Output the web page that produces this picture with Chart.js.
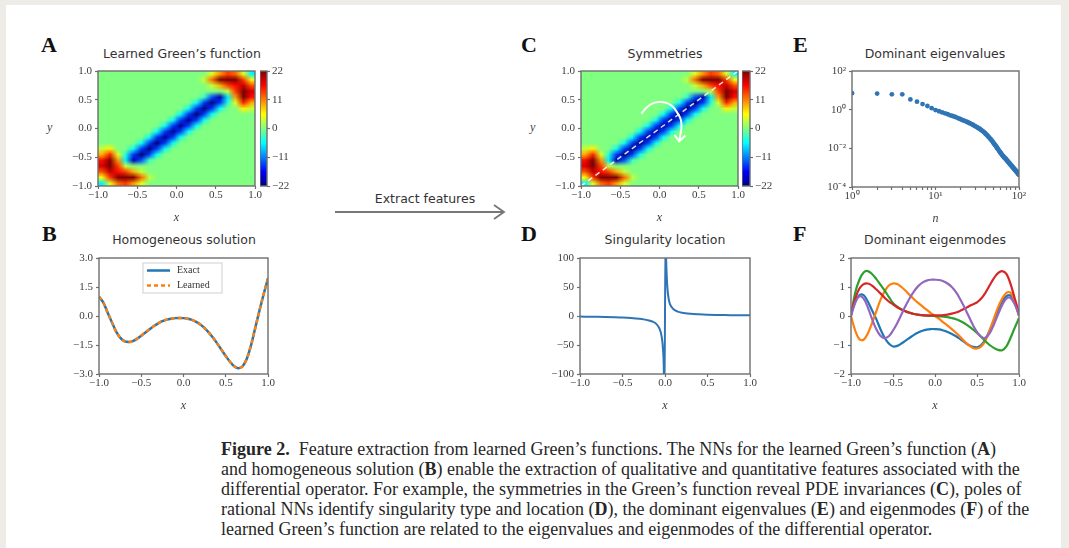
<!DOCTYPE html>
<html>
<head>
<meta charset="utf-8">
<script src="https://cdn.jsdelivr.net/npm/chart.js@4.4.1/dist/chart.umd.min.js"></script>
<style>
html, body { margin: 0; padding: 0; background: #edece7; }
#fig { position: relative; width: 1069px; height: 548px; overflow: hidden; }
.sheet { position: absolute; left: 6px; top: 5px; width: 1055px; height: 543px; background: #fff; }
canvas { position: absolute; }
.letter { position: absolute; font: bold 22px/22px 'Liberation Serif', serif; color: #111; }
.ptitle { position: absolute; width: 240px; text-align: center; font: 12.5px/15px 'DejaVu Sans', sans-serif; color: #333; white-space: nowrap; }
.ylab { position: absolute; font: italic 12px/12px 'Liberation Serif', serif; color: #444; }
.cap { position: absolute; left: 221px; font: 18px/20px 'Liberation Serif', serif; color: #262626; white-space: nowrap; }
</style>
</head>
<body>
<div id="fig">
  <div class="sheet"></div>

  <div class="letter" style="left:41px;top:34px">A</div>
  <div class="letter" style="left:42px;top:223px">B</div>
  <div class="letter" style="left:521px;top:34px">C</div>
  <div class="letter" style="left:521px;top:223px">D</div>
  <div class="letter" style="left:793px;top:34px">E</div>
  <div class="letter" style="left:793px;top:223px">F</div>

  <div class="ptitle" style="left:62px;top:46px">Learned Green’s function</div>
  <div class="ptitle" style="left:64px;top:232px">Homogeneous solution</div>
  <div class="ptitle" style="left:545px;top:46px">Symmetries</div>
  <div class="ptitle" style="left:545px;top:232px">Singularity location</div>
  <div class="ptitle" style="left:815px;top:46px">Dominant eigenvalues</div>
  <div class="ptitle" style="left:815px;top:232px">Dominant eigenmodes</div>

  <div class="ylab" style="left:47px;top:121px">y</div>
  <div class="ylab" style="left:530px;top:121px">y</div>

  <svg style="position:absolute;left:330px;top:200px" width="185" height="24">
    <line x1="5" y1="12" x2="174" y2="12" stroke="#777" stroke-width="1.8"/>
    <polyline points="164,5 174,12 164,19" fill="none" stroke="#777" stroke-width="1.8"/>
  </svg>
  <div class="ptitle" style="left:305px;top:191px">Extract features</div>

  <canvas id="cA"></canvas>
  <canvas id="cAbar"></canvas>
  <canvas id="cC"></canvas>
  <canvas id="cCbar"></canvas>
  <canvas id="cE"></canvas>
  <canvas id="cB"></canvas>
  <canvas id="cD"></canvas>
  <canvas id="cF"></canvas>

  <div class="cap" style="top:439px"><b>Figure 2.</b>&nbsp; Feature extraction from learned Green’s functions. The NNs for the learned Green’s function (<b>A</b>)</div>
  <div class="cap" style="top:459px">and homogeneous solution (<b>B</b>) enable the extraction of qualitative and quantitative features associated with the</div>
  <div class="cap" style="top:479px">differential operator. For example, the symmetries in the Green’s function reveal PDE invariances (<b>C</b>), poles of</div>
  <div class="cap" style="top:499px">rational NNs identify singularity type and location (<b>D</b>), the dominant eigenvalues (<b>E</b>) and eigenmodes (<b>F</b>) of the</div>
  <div class="cap" style="top:519px">learned Green’s function are related to the eigenvalues and eigenmodes of the differential operator.</div>
</div>

<script>
// ---------- data ----------
const xs = [-1, -0.95, -0.9, -0.85, -0.8, -0.75, -0.7, -0.65, -0.6, -0.55, -0.5, -0.45, -0.4, -0.35, -0.3, -0.25, -0.2, -0.15, -0.1, -0.05, 0,
  0.05, 0.1, 0.15, 0.2, 0.25, 0.3, 0.35, 0.4, 0.45, 0.5, 0.55, 0.6, 0.65, 0.7, 0.75, 0.8, 0.85, 0.9, 0.95, 1];

// B: homogeneous solution
const exactU = [1.0, 0.7, 0.2, -0.3, -0.78, -1.12, -1.3, -1.35, -1.3, -1.18, -1.02, -0.85, -0.68, -0.52, -0.38, -0.27, -0.19, -0.14, -0.11, -0.1, -0.11,
  -0.14, -0.2, -0.3, -0.44, -0.63, -0.86, -1.13, -1.43, -1.75, -2.07, -2.37, -2.6, -2.7, -2.6, -2.2, -1.5, -0.6, 0.3, 1.15, 1.95];
const learnedU = [1.0, 0.7, 0.2, -0.3, -0.78, -1.12, -1.3, -1.35, -1.3, -1.18, -1.02, -0.85, -0.68, -0.52, -0.38, -0.27, -0.19, -0.14, -0.11, -0.1, -0.11,
  -0.14, -0.2, -0.3, -0.44, -0.63, -0.86, -1.13, -1.43, -1.75, -2.07, -2.37, -2.6, -2.7, -2.6, -2.2, -1.5, -0.6, 0.3, 1.15, 1.95];

// D: singularity location
const singX = [-1, -0.9, -0.8, -0.7, -0.6, -0.5, -0.4, -0.3, -0.25, -0.2, -0.15, -0.1, -0.075, -0.05, -0.035, -0.025, -0.015, -0.008,
  0.008, 0.012, 0.02, 0.03, 0.045, 0.06, 0.08, 0.1, 0.15, 0.2, 0.3, 0.4, 0.5, 0.6, 0.7, 0.8, 0.9, 1];
const singY = [-1.0, -1.2, -1.4, -1.7, -2.1, -2.6, -3.4, -4.7, -5.8, -7.3, -9.5, -14, -19, -28, -40, -55, -85, -160,
  160, 110, 70, 45, 28, 20, 15, 11.5, 7.5, 5.6, 3.8, 2.9, 2.3, 1.9, 1.6, 1.4, 1.2, 1.1];

// E: dominant eigenvalues, n = 1..100
const eigVals = [7.1, 6.8, 6.2, 6.2, 3.4, 2.6, 1.95, 1.55, 1.2, 0.95,
  0.83, 0.72, 0.65, 0.58, 0.51, 0.47, 0.43, 0.39, 0.35, 0.32,
  0.29, 0.27, 0.25, 0.23, 0.21, 0.195, 0.18, 0.166, 0.151, 0.138,
  0.129, 0.117, 0.107, 0.1, 0.091, 0.083, 0.076, 0.069, 0.062, 0.055,
  0.05, 0.045, 0.04, 0.036, 0.032, 0.029, 0.026, 0.023, 0.02, 0.018,
  0.016, 0.0145, 0.0129, 0.0115, 0.0102, 0.0091, 0.0081, 0.0072, 0.0065, 0.0059,
  0.0054, 0.0049, 0.0045, 0.0041, 0.0038, 0.0035, 0.0033, 0.0031, 0.0029, 0.0027,
  0.0025, 0.0023, 0.0022, 0.00204, 0.0019, 0.00178, 0.00166, 0.00155, 0.00145, 0.00135,
  0.00129, 0.0012, 0.00112, 0.00107, 0.001, 0.00095, 0.00089, 0.00085, 0.00079, 0.00076,
  0.00071, 0.00068, 0.00063, 0.0006, 0.00056, 0.00054, 0.0005, 0.00048, 0.00045, 0.00042];

// F: dominant eigenmodes
const mode1 = [0.05, 0.5, 0.72, 0.72, 0.5, 0.2, -0.1, -0.45, -0.75, -0.95, -1.05, -1.03, -0.95, -0.85, -0.75, -0.65, -0.57, -0.51, -0.47, -0.45, -0.45,
  -0.46, -0.5, -0.55, -0.62, -0.7, -0.8, -0.9, -1.0, -1.06, -1.08, -1.0, -0.8, -0.5, -0.15, 0.2, 0.5, 0.68, 0.7, 0.45, 0.0];
const mode2 = [0, -0.5, -0.8, -0.82, -0.6, -0.25, 0.15, 0.55, 0.85, 1.05, 1.12, 1.1, 1.0, 0.87, 0.72, 0.58, 0.45, 0.33, 0.22, 0.1, 0,
  -0.1, -0.22, -0.33, -0.45, -0.58, -0.72, -0.87, -1.0, -1.1, -1.12, -1.05, -0.85, -0.5, -0.1, 0.3, 0.6, 0.8, 0.8, 0.5, 0];
const mode3 = [0, 0.8, 1.25, 1.5, 1.55, 1.45, 1.28, 1.08, 0.88, 0.66, 0.45, 0.32, 0.23, 0.16, 0.11, 0.07, 0.04, 0.02, 0.01, 0, 0,
  -0.01, -0.02, -0.04, -0.07, -0.11, -0.17, -0.25, -0.35, -0.46, -0.58, -0.72, -0.87, -1.0, -1.1, -1.17, -1.18, -1.05, -0.75, -0.4, -0.08];
const mode4 = [0.05, 0.6, 0.95, 1.1, 1.12, 1.05, 0.92, 0.78, 0.63, 0.5, 0.4, 0.3, 0.22, 0.16, 0.11, 0.07, 0.05, 0.03, 0.02, 0.02, 0.02,
  0.02, 0.03, 0.05, 0.08, 0.12, 0.18, 0.25, 0.33, 0.4, 0.47, 0.6, 0.8, 1.05, 1.3, 1.48, 1.55, 1.45, 1.1, 0.6, 0.1];
const mode5 = [0, 0.45, 0.68, 0.6, 0.3, -0.1, -0.45, -0.68, -0.76, -0.7, -0.5, -0.25, 0.05, 0.35, 0.62, 0.85, 1.03, 1.15, 1.22, 1.25, 1.25,
  1.24, 1.2, 1.12, 1.0, 0.82, 0.58, 0.3, 0.0, -0.3, -0.55, -0.72, -0.75, -0.6, -0.3, 0.05, 0.38, 0.6, 0.62, 0.4, 0.05];

// A / C: learned Green's function on a 20 x 20 grid; cells not listed are ~0
const cellCentres = [-0.95, -0.85, -0.75, -0.65, -0.55, -0.45, -0.35, -0.25, -0.15, -0.05,
  0.05, 0.15, 0.25, 0.35, 0.45, 0.55, 0.65, 0.75, 0.85, 0.95];
const hotCells = [
  // upper-right lobes
  [0.45, 0.95, 4], [0.55, 0.95, 10], [0.65, 0.95, 14], [0.75, 0.95, 12], [0.85, 0.95, 4], [0.95, 0.95, -6],
  [0.35, 0.85, 3], [0.45, 0.85, 12], [0.55, 0.85, 22], [0.65, 0.85, 22], [0.75, 0.85, 22], [0.85, 0.85, 14], [0.95, 0.85, 5],
  [0.45, 0.75, 3], [0.55, 0.75, 9], [0.65, 0.75, 14], [0.75, 0.75, 16], [0.85, 0.75, 19], [0.95, 0.75, 13],
  [0.65, 0.65, 3], [0.75, 0.65, 14], [0.85, 0.65, 22], [0.95, 0.65, 18],
  [0.75, 0.55, 10], [0.85, 0.55, 22], [0.95, 0.55, 16],
  [0.75, 0.45, 4], [0.85, 0.45, 15], [0.95, 0.45, 9],
  [0.85, 0.35, 6], [0.95, 0.35, 3],
  // lower-left lobes
  [-0.45, -0.95, 4], [-0.55, -0.95, 10], [-0.65, -0.95, 14], [-0.75, -0.95, 12], [-0.85, -0.95, 4], [-0.95, -0.95, -6],
  [-0.35, -0.85, 3], [-0.45, -0.85, 12], [-0.55, -0.85, 22], [-0.65, -0.85, 22], [-0.75, -0.85, 22], [-0.85, -0.85, 14], [-0.95, -0.85, 5],
  [-0.45, -0.75, 3], [-0.55, -0.75, 9], [-0.65, -0.75, 14], [-0.75, -0.75, 16], [-0.85, -0.75, 19], [-0.95, -0.75, 13],
  [-0.65, -0.65, 3], [-0.75, -0.65, 14], [-0.85, -0.65, 22], [-0.95, -0.65, 18],
  [-0.75, -0.55, 10], [-0.85, -0.55, 22], [-0.95, -0.55, 16],
  [-0.75, -0.45, 4], [-0.85, -0.45, 15], [-0.95, -0.45, 9],
  [-0.85, -0.35, 6], [-0.95, -0.35, 3],
  // negative band along the diagonal
  [-0.55, -0.55, -20], [-0.45, -0.55, -13], [-0.65, -0.55, -6], [-0.35, -0.55, -3],
  [-0.45, -0.45, -22], [-0.35, -0.45, -14], [-0.55, -0.45, -14], [-0.25, -0.45, -5], [-0.65, -0.45, -4],
  [-0.35, -0.35, -22], [-0.25, -0.35, -14], [-0.45, -0.35, -14], [-0.15, -0.35, -5], [-0.55, -0.35, -5],
  [-0.25, -0.25, -22], [-0.15, -0.25, -14], [-0.35, -0.25, -14], [-0.05, -0.25, -5], [-0.45, -0.25, -5],
  [-0.15, -0.15, -21], [-0.05, -0.15, -14], [-0.25, -0.15, -14], [0.05, -0.15, -5], [-0.35, -0.15, -5],
  [-0.05, -0.05, -21], [0.05, -0.05, -14], [-0.15, -0.05, -14], [0.15, -0.05, -5], [-0.25, -0.05, -5],
  [0.05, 0.05, -21], [0.15, 0.05, -14], [-0.05, 0.05, -14], [0.25, 0.05, -5], [-0.15, 0.05, -5],
  [0.15, 0.15, -21], [0.25, 0.15, -14], [0.05, 0.15, -14], [0.35, 0.15, -5], [-0.05, 0.15, -5],
  [0.25, 0.25, -22], [0.35, 0.25, -14], [0.15, 0.25, -14], [0.45, 0.25, -5], [0.05, 0.25, -5],
  [0.35, 0.35, -22], [0.45, 0.35, -14], [0.25, 0.35, -14], [0.55, 0.35, -5], [0.15, 0.35, -5],
  [0.45, 0.45, -22], [0.55, 0.45, -14], [0.35, 0.45, -14], [0.65, 0.45, -4], [0.25, 0.45, -5],
  [0.55, 0.55, -20], [0.45, 0.55, -13], [0.65, 0.55, -6], [0.35, 0.55, -3]
];
const colourTicks = [-22, -11, 0, 11, 22];

// C: symmetry annotations (data coordinates)
const symX = [-1, 1], symY = [-1, 1];
const arcX = [-0.23, -0.16, -0.08, 0.0, 0.08, 0.16, 0.22, 0.27, 0.28, 0.27, 0.25];
const arcY = [0.26, 0.37, 0.44, 0.46, 0.45, 0.39, 0.29, 0.16, 0.04, -0.08, -0.22];
const headX = [0.19, 0.25, 0.33], headY = [-0.11, -0.22, -0.12];

// ---------- styling helpers ----------
const serif = "'Liberation Serif', 'Times New Roman', serif";
const FRAME = '#6e6e6e', TICK = '#3d3d3d';
const YW = 48, XH = 38, PT = 8, PR = 22;

function jet(v) {
  const t = (v + 22) / 44;
  const c = k => Math.round(255 * Math.max(0, Math.min(1, 1.5 - Math.abs(4 * t - k))));
  return 'rgb(' + c(3) + ',' + c(2) + ',' + c(1) + ')';
}

const fmt = d => v => (Math.abs(v) < 1e-9 ? 0 : v).toFixed(d).replace('-', '\u2212');
const pts = (xv, yv) => xv.map((x, i) => ({x: x, y: yv[i]}));

function place(id, r, yw, xh, pr) {
  const el = document.getElementById(id);
  el.width = yw + (r.R - r.L) + pr;
  el.height = PT + (r.B - r.T) + xh;
  el.style.left = (r.L - yw) + 'px';
  el.style.top = (r.T - PT) + 'px';
  return el;
}

function axis(position, extra) {
  const horiz = position === 'bottom';
  const a = {
    position: position,
    offset: false,
    ticks: { autoSkip: false, maxRotation: 0, padding: horiz ? 1 : 3, color: TICK,
             font: { family: serif, size: 11, lineHeight: 1 } },
    grid: { drawOnChartArea: false, drawTicks: true, tickLength: 3, tickColor: FRAME, tickWidth: 1.2, offset: false },
    border: { display: false },
    title: { display: false },
    afterFit: s => {
      if (s.isHorizontal()) { s.height = XH; s.paddingLeft = 0; s.paddingRight = 0; }
      else { s.width = position === 'right' ? 30 : YW; s.paddingTop = 0; s.paddingBottom = 0; }
    }
  };
  Object.assign(a, extra);
  a.ticks = Object.assign(a.ticks, extra.tickOpts || {});
  if (extra.label) {
    a.title = { display: true, text: extra.label, color: TICK, padding: 0,
                font: { family: serif, size: 12, style: 'italic', lineHeight: 1 } };
  }
  return a;
}

function base(scales, extraPlugins) {
  return {
    responsive: false, animation: false, devicePixelRatio: 1,
    layout: { padding: { top: PT, right: PR, left: 0, bottom: 0 } },
    plugins: Object.assign({ legend: { display: false }, tooltip: { enabled: false }, title: { display: false } }, extraPlugins || {}),
    scales: scales
  };
}

// frame around every axes box
Chart.register({
  id: 'frame',
  afterDatasetsDraw(chart) {
    const {ctx, chartArea: a} = chart;
    ctx.save();
    ctx.strokeStyle = FRAME;
    ctx.lineWidth = 1.4;
    ctx.strokeRect(a.left, a.top, a.width, a.height);
    ctx.restore();
  }
});

// resample the drawn cells with bilinear smoothing, like imshow(interpolation='bilinear')
const soften = {
  id: 'soften',
  beforeDatasetsDraw(chart) {
    const {ctx, chartArea: a} = chart;
    ctx.save();
    ctx.fillStyle = jet(0);
    ctx.fillRect(a.left, a.top, a.width, a.height);
    ctx.restore();
  },
  afterDatasetDraw(chart, args) {
    if (args.index !== 0) return;
    const {ctx, chartArea: a} = chart;
    const n = cellCentres.length;
    const tmp = document.createElement('canvas');
    tmp.width = n;
    tmp.height = n;
    const t = tmp.getContext('2d');
    t.imageSmoothingEnabled = false;
    t.drawImage(chart.canvas, a.left, a.top, a.width, a.height, 0, 0, n, n);
    ctx.save();
    ctx.beginPath();
    ctx.rect(a.left, a.top, a.width, a.height);
    ctx.clip();
    ctx.imageSmoothingEnabled = true;
    ctx.imageSmoothingQuality = 'low';
    ctx.drawImage(tmp, 0, 0, n, n, a.left, a.top, a.width, a.height);
    ctx.restore();
  }
};

// matplotlib-like framed legend in the upper centre
const boxLegend = {
  id: 'boxLegend',
  afterDatasetsDraw(chart) {
    const {ctx, chartArea: a} = chart;
    const w = 79, h = 30;
    const x0 = (a.left + a.right) / 2 - w / 2 - 1, y0 = a.top + 5;
    ctx.save();
    ctx.fillStyle = 'rgba(255,255,255,0.85)';
    ctx.strokeStyle = '#cfcfcf';
    ctx.lineWidth = 1;
    ctx.fillRect(x0, y0, w, h);
    ctx.strokeRect(x0, y0, w, h);
    chart.data.datasets.forEach((ds, i) => {
      const y = y0 + 7.5 + i * 15;
      ctx.strokeStyle = ds.borderColor;
      ctx.lineWidth = ds.borderWidth;
      ctx.setLineDash(ds.borderDash || []);
      ctx.beginPath();
      ctx.moveTo(x0 + 4, y);
      ctx.lineTo(x0 + 27, y);
      ctx.stroke();
      ctx.setLineDash([]);
      ctx.fillStyle = '#333';
      ctx.font = '10px ' + serif;
      ctx.textBaseline = 'middle';
      ctx.fillText(ds.label, x0 + 34, y);
    });
    ctx.restore();
  }
};

// ---------- heat maps (A, C) ----------
const heatGrid = cellCentres.map(() => cellCentres.map(() => 0));
const cellIndex = v => Math.round((v + 0.95) / 0.1);
hotCells.forEach(c => { heatGrid[cellIndex(c[1])][cellIndex(c[0])] = c[2]; });

function heatPanel(id, r, overlays) {
  const el = place(id, r, YW, XH, PR);
  const rows = heatGrid.map((row, j) => ({
    type: 'bar', xAxisID: 'xc', yAxisID: 'y', order: 0,
    data: row.map(() => [cellCentres[j] - 0.05, cellCentres[j] + 0.05]),
    backgroundColor: row.map(jet),
    borderWidth: 0, barPercentage: 1, categoryPercentage: 1, grouped: false
  }));
  return new Chart(el, {
    type: 'bar',
    data: { labels: cellCentres.map(String), datasets: rows.concat(overlays) },
    options: base({
      xc: { type: 'category', display: false, offset: true },
      x: axis('bottom', { type: 'linear', min: -1, max: 1, label: 'x', tickOpts: { stepSize: 0.5, callback: fmt(1) } }),
      y: axis('left', { type: 'linear', min: -1, max: 1, tickOpts: { stepSize: 0.5, callback: fmt(1) } })
    }),
    plugins: [soften]
  });
}

function jetGradient(context) {
  const a = context.chart.chartArea;
  if (!a) return jet(0);
  const g = context.chart.ctx.createLinearGradient(0, a.bottom, 0, a.top);
  [0, 0.125, 0.375, 0.625, 0.875, 1].forEach(t => g.addColorStop(t, jet(-22 + 44 * t)));
  return g;
}

function colourBar(id, r) {
  const el = document.getElementById(id);
  el.width = (r.R - r.L) + 30;
  el.height = PT + (r.B - r.T) + PT;
  el.style.left = r.L + 'px';
  el.style.top = (r.T - PT) + 'px';
  const opts = base({
    x: { display: false },
    y: axis('right', { type: 'linear', min: colourTicks[0], max: colourTicks[colourTicks.length - 1],
      afterBuildTicks: s => { s.ticks = colourTicks.map(v => ({value: v})); },
      tickOpts: { callback: fmt(0), padding: 2 } })
  });
  opts.layout.padding = { top: PT, bottom: PT, left: 0, right: 0 };
  return new Chart(el, {
    type: 'bar',
    data: { labels: [''], datasets: [{ data: [[colourTicks[0], colourTicks[colourTicks.length - 1]]],
      backgroundColor: jetGradient, borderWidth: 0, barPercentage: 1, categoryPercentage: 1 }] },
    options: opts
  });
}

heatPanel('cA', {L: 98, T: 71, R: 255, B: 186}, []);
colourBar('cAbar', {L: 260, T: 71, R: 267, B: 186});

heatPanel('cC', {L: 581, T: 71, R: 738, B: 186}, [
  { type: 'line', xAxisID: 'x', yAxisID: 'y', order: -1, data: pts(symX, symY),
    borderColor: 'rgba(255,255,255,0.85)', borderWidth: 1.5, borderDash: [5, 4], pointRadius: 0, tension: 0 },
  { type: 'line', xAxisID: 'x', yAxisID: 'y', order: -1, data: pts(arcX, arcY),
    borderColor: '#ffffff', borderWidth: 2, pointRadius: 0, tension: 0.4 },
  { type: 'line', xAxisID: 'x', yAxisID: 'y', order: -1, data: pts(headX, headY),
    borderColor: '#ffffff', borderWidth: 2, pointRadius: 0, tension: 0 }
]);
colourBar('cCbar', {L: 742, T: 71, R: 750, B: 186});

// ---------- E: eigenvalues ----------
const decadeLabel = { 1: '10\u2070', 10: '10\u00b9', 100: '10\u00b2', 0.01: '10\u207b\u00b2', 0.0001: '10\u207b\u2074' };
new Chart(place('cE', {L: 852, T: 71, R: 1019, B: 187}, YW, XH, PR), {
  type: 'scatter',
  data: { datasets: [{ data: eigVals.map((v, i) => ({x: i + 1, y: v})),
    backgroundColor: '#2f74b5', borderWidth: 0, pointRadius: 2.4 }] },
  options: base({
    x: axis('bottom', { type: 'logarithmic', min: 1, max: 100, label: 'n',
      afterBuildTicks: s => { s.ticks = [1, 2, 3, 4, 5, 6, 7, 8, 9, 10, 20, 30, 40, 50, 60, 70, 80, 90, 100].map(v => ({value: v})); },
      tickOpts: { callback: v => decadeLabel[v] || '' } }),
    y: axis('left', { type: 'logarithmic', min: 0.0001, max: 100,
      afterBuildTicks: s => { s.ticks = [0.0001, 0.01, 1, 100].map(v => ({value: v})); },
      tickOpts: { callback: v => decadeLabel[v] || '' } })
  })
});

// ---------- B: homogeneous solution ----------
new Chart(place('cB', {L: 99, T: 258, R: 268, B: 374}, YW, XH, PR), {
  type: 'line',
  data: { datasets: [
    { label: 'Exact', data: pts(xs, exactU), borderColor: '#1f77b4', borderWidth: 2.5, pointRadius: 0, tension: 0.35, order: 1 },
    { label: 'Learned', data: pts(xs, learnedU), borderColor: '#ff7f0e', borderWidth: 2.5, borderDash: [4, 3], pointRadius: 0, tension: 0.35, order: 0 }
  ] },
  options: base({
    x: axis('bottom', { type: 'linear', min: -1, max: 1, label: 'x', tickOpts: { stepSize: 0.5, callback: fmt(1) } }),
    y: axis('left', { type: 'linear', min: -3, max: 3, tickOpts: { stepSize: 1.5, callback: fmt(1) } })
  }),
  plugins: [boxLegend]
});

// ---------- D: singularity ----------
new Chart(place('cD', {L: 580, T: 258, R: 750, B: 374}, YW, XH, PR), {
  type: 'line',
  data: { datasets: [{ data: pts(singX, singY), borderColor: '#2f75b5', borderWidth: 2, pointRadius: 0,
    cubicInterpolationMode: 'monotone' }] },
  options: base({
    x: axis('bottom', { type: 'linear', min: -1, max: 1, label: 'x', tickOpts: { stepSize: 0.5, callback: fmt(1) } }),
    y: axis('left', { type: 'linear', min: -100, max: 100, tickOpts: { stepSize: 50, callback: fmt(0) } })
  })
});

// ---------- F: eigenmodes ----------
const modeColours = ['#1f77b4', '#ff7f0e', '#2ca02c', '#d62728', '#9467bd'];
new Chart(place('cF', {L: 851, T: 258, R: 1019, B: 374}, YW, XH, PR), {
  type: 'line',
  data: { datasets: [mode1, mode2, mode3, mode4, mode5].map((m, i) => ({
    data: pts(xs, m), borderColor: modeColours[i], borderWidth: 2.2, pointRadius: 0, tension: 0.35, order: 4 - i })) },
  options: base({
    x: axis('bottom', { type: 'linear', min: -1, max: 1, label: 'x', tickOpts: { stepSize: 0.5, callback: fmt(1) } }),
    y: axis('left', { type: 'linear', min: -2, max: 2, tickOpts: { stepSize: 1, callback: fmt(0) } })
  })
});
</script>
</body>
</html>
